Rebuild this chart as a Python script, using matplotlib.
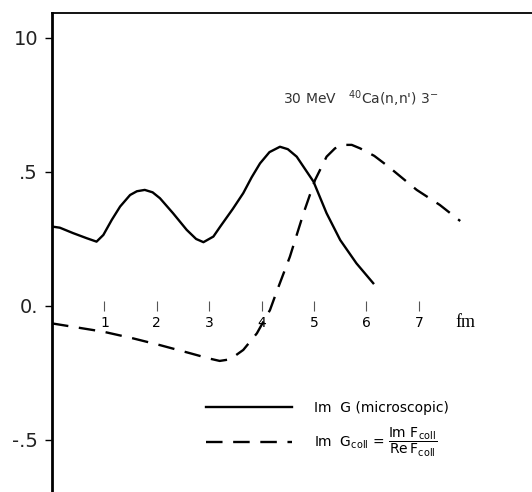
import numpy as np
import matplotlib.pyplot as plt

# Data (r in fm)
r_micro = [0.01, 0.15, 0.40, 0.66, 0.85, 0.98, 1.14, 1.30, 1.49, 1.62, 1.77, 1.92, 2.06, 2.31, 2.57,
           2.75, 2.89, 3.08, 3.21, 3.45, 3.65, 3.81, 3.97, 4.15, 4.35, 4.50, 4.67, 4.99, 5.24,
           5.50, 5.81, 6.13]
g_micro = [0.296, 0.292, 0.272, 0.253, 0.240, 0.265, 0.321, 0.371, 0.414, 0.428, 0.433, 0.424, 0.402,
           0.346, 0.284, 0.250, 0.238, 0.259, 0.296, 0.362, 0.421, 0.480, 0.532, 0.574, 0.594, 0.585,
           0.557, 0.464, 0.346, 0.246, 0.159, 0.085]

r_coll = [0.0, 0.98, 1.55, 2.06, 2.63, 3.00, 3.20, 3.40, 3.65, 3.91, 4.03, 4.16, 4.30, 4.54, 4.80,
          5.02, 5.24, 5.40, 5.56, 5.72, 5.88, 6.15, 6.42, 6.96, 7.40, 7.79]
g_coll = [-0.065, -0.096, -0.121, -0.146, -0.176, -0.196, -0.205, -0.199, -0.164, -0.102, -0.060,
          -0.015, 0.060, 0.184, 0.346, 0.470, 0.557, 0.588, 0.601, 0.601, 0.588, 0.560, 0.520,
          0.433, 0.377, 0.317]

xticks = [1, 2, 3, 4, 5, 6, 7]
yticks = [1.0, 0.5, 0.0, -0.5]
ylabels = ['10', '.5', '0.', '-.5']

fig = plt.figure(figsize=(5.32, 4.92), dpi=100)
ax = fig.add_axes([52 / 532, 0.0, 480 / 532, 1 - 13 / 492])

ax.plot(r_micro, g_micro, color='black', lw=1.7, solid_joinstyle='round',
        label='Im  G (microscopic)')
ax.plot(r_coll, g_coll, color='black', lw=1.7, dashes=(7, 4.5),
        label=r'Im  G$_{\rm coll}$ = $\dfrac{\rm Im\ F_{coll}}{\rm Re\,F_{coll}}$')

ax.set_xlim(0, 9.16)
ax.set_ylim(-0.694, 1.093)

for s in ['right', 'bottom']:
    ax.spines[s].set_visible(False)
ax.spines['left'].set_linewidth(2)
ax.spines['top'].set_linewidth(1.3)

ax.set_yticks(yticks)
ax.set_yticklabels(ylabels, fontsize=14, color='#222222')
ax.tick_params(axis='y', direction='out', length=5, width=1, pad=5)

ax.set_xticks(xticks)
ax.set_xticklabels([str(t) for t in xticks], family='Liberation Serif', fontsize=12, color='#444444')
ax.tick_params(axis='x', direction='inout', length=7, width=0.8, color='#555555', pad=4)
ax.spines['bottom'].set_position(('data', 0))
ax.spines['bottom'].set_visible(True)
ax.spines['bottom'].set_linewidth(0)

ax.text(7.7, -0.06, 'fm', family='Liberation Serif', fontsize=13, va='center')
ax.text(4.4, 0.755, r"30 MeV   $^{40}$Ca(n,n') 3$^{-}$", fontsize=10, color='#333333')

ax.legend(loc='upper left', bbox_to_anchor=(0.32, 0.19), frameon=False, fontsize=10,
          handlelength=6.2, handletextpad=1.6, labelspacing=0.8, borderpad=0, borderaxespad=0)

fig.savefig('out.png', dpi=100)
